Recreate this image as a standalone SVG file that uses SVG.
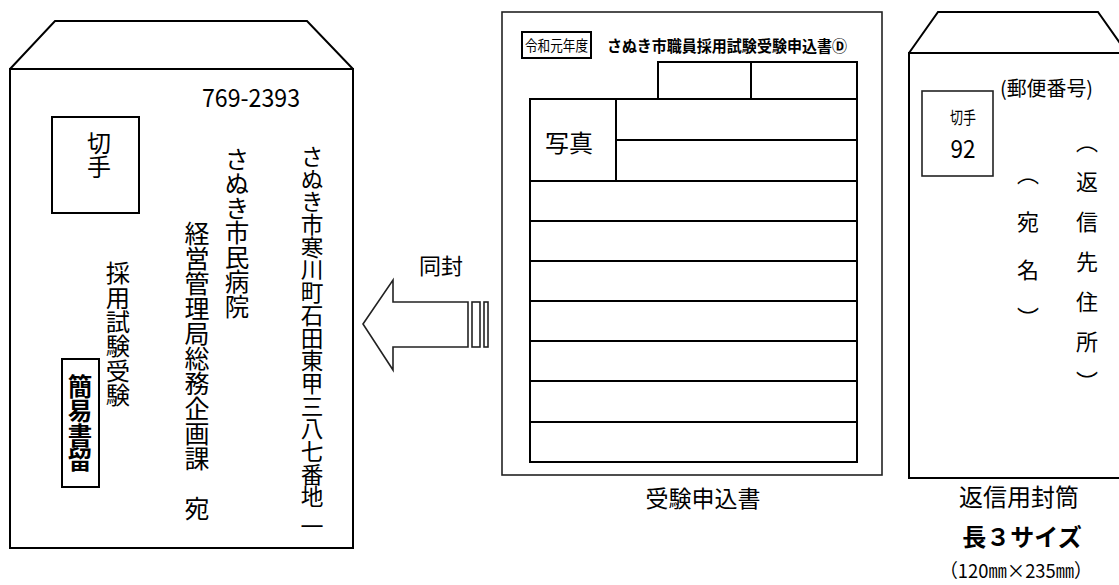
<svg xmlns="http://www.w3.org/2000/svg" width="1119" height="585" viewBox="0 0 1119 585">
<style>
.ln{fill:none;stroke:#000;stroke-width:2}
.ln2{fill:none;stroke:#222;stroke-width:1.6}
.t{font-family:"Noto Sans CJK JP","Noto Sans",sans-serif;fill:#000}
.v{font-family:"Noto Sans CJK JP",sans-serif;fill:#000;writing-mode:vertical-rl}
.b{font-weight:bold}
</style>
<rect width="1119" height="585" fill="#fff"/>
<g id="envelope-main">
  <path class="ln" d="M10,69 L55,21 L307,21 L353,69"/>
  <rect class="ln" x="10" y="69" width="343" height="479"/>
  <text class="t" x="202" y="107" font-size="25" textLength="98" lengthAdjust="spacingAndGlyphs">769-2393</text>
  <rect class="ln" x="52" y="117" width="87" height="96"/>
  <text class="v" x="99" y="131" font-size="24">切手</text>
  <text class="v" x="312" y="145" font-size="22.7">さぬき市寒川町石田東甲三八七番地</text>
  <text class="v" x="312" y="515" font-size="23">一</text>
  <text class="v" x="237" y="147" font-size="24.5">さぬき市民病院</text>
  <text class="v" x="197" y="221" font-size="25">経営管理局総務企画課　宛</text>
  <text class="v" x="118" y="261" font-size="24.3">採用試験受験</text>
  <rect class="ln" x="62" y="359" width="37" height="128"/>
  <text class="v b" x="80" y="374" font-size="24.5">簡易書留</text>
</g>
<g id="arrow-enclose">
  <polygon class="ln2" points="363,324 393,280 393,302 468,302 468,347 393,347 393,370"/>
  <rect class="ln2" x="472" y="302" width="8" height="45"/>
  <rect class="ln2" x="484" y="302" width="4" height="45"/>
  <text class="t" x="441" y="274" font-size="22" text-anchor="middle">同封</text>
</g>
<g id="application-form">
  <rect class="ln2" x="502" y="12" width="380" height="463"/>
  <rect class="ln" x="522" y="32" width="69" height="26"/>
  <text class="t" x="556.5" y="51" font-size="15" text-anchor="middle" textLength="63" lengthAdjust="spacingAndGlyphs">令和元年度</text>
  <text class="t b" x="607" y="52" font-size="15.5" textLength="240" lengthAdjust="spacingAndGlyphs">さぬき市職員採用試験受験申込書Ⓓ</text>
  <rect class="ln" x="658" y="62" width="199" height="37"/>
  <line class="ln" x1="751" y1="62" x2="751" y2="99"/>
  <rect class="ln" x="530" y="99" width="327" height="363"/>
  <line class="ln" x1="616" y1="99" x2="616" y2="181"/>
  <line class="ln" x1="616" y1="140" x2="857" y2="140"/>
  <line class="ln" x1="530" y1="181" x2="857" y2="181"/>
  <line class="ln" x1="530" y1="221" x2="857" y2="221"/>
  <line class="ln" x1="530" y1="261" x2="857" y2="261"/>
  <line class="ln" x1="530" y1="301" x2="857" y2="301"/>
  <line class="ln" x1="530" y1="341" x2="857" y2="341"/>
  <line class="ln" x1="530" y1="381" x2="857" y2="381"/>
  <line class="ln" x1="530" y1="422" x2="857" y2="422"/>
  <text class="t" x="569" y="152" font-size="24" text-anchor="middle">写真</text>
  <text class="t" x="703" y="507" font-size="23" text-anchor="middle">受験申込書</text>
</g>
<g id="return-envelope">
  <path class="ln" d="M909,53 L938,12 L1098,12 L1127,53"/>
  <path class="ln" d="M1125,53 L909,53 L909,478 L1125,478"/>
  <rect class="ln2" x="922" y="91" width="71" height="85"/>
  <text class="t" x="963" y="124" font-size="17" text-anchor="middle" textLength="26" lengthAdjust="spacingAndGlyphs">切手</text>
  <text class="t" x="963" y="158" font-size="25" text-anchor="middle" textLength="25" lengthAdjust="spacingAndGlyphs">92</text>
  <text class="t" x="1000" y="96" font-size="20" textLength="93" lengthAdjust="spacingAndGlyphs">(郵便番号)</text>
  <text class="v" x="1028" y="163" font-size="22" letter-spacing="26">︵宛名︶</text>
  <text class="v" x="1087" y="131" font-size="22" letter-spacing="18">︵返信先住所︶</text>
  <text class="t" x="1019" y="506" font-size="24" text-anchor="middle">返信用封筒</text>
  <text class="t b" x="1022" y="546" font-size="24" text-anchor="middle">長３サイズ</text>
  <text class="t" x="1016" y="578" font-size="19" text-anchor="middle" textLength="153" lengthAdjust="spacingAndGlyphs">（120㎜×235㎜）</text>
</g>
</svg>
